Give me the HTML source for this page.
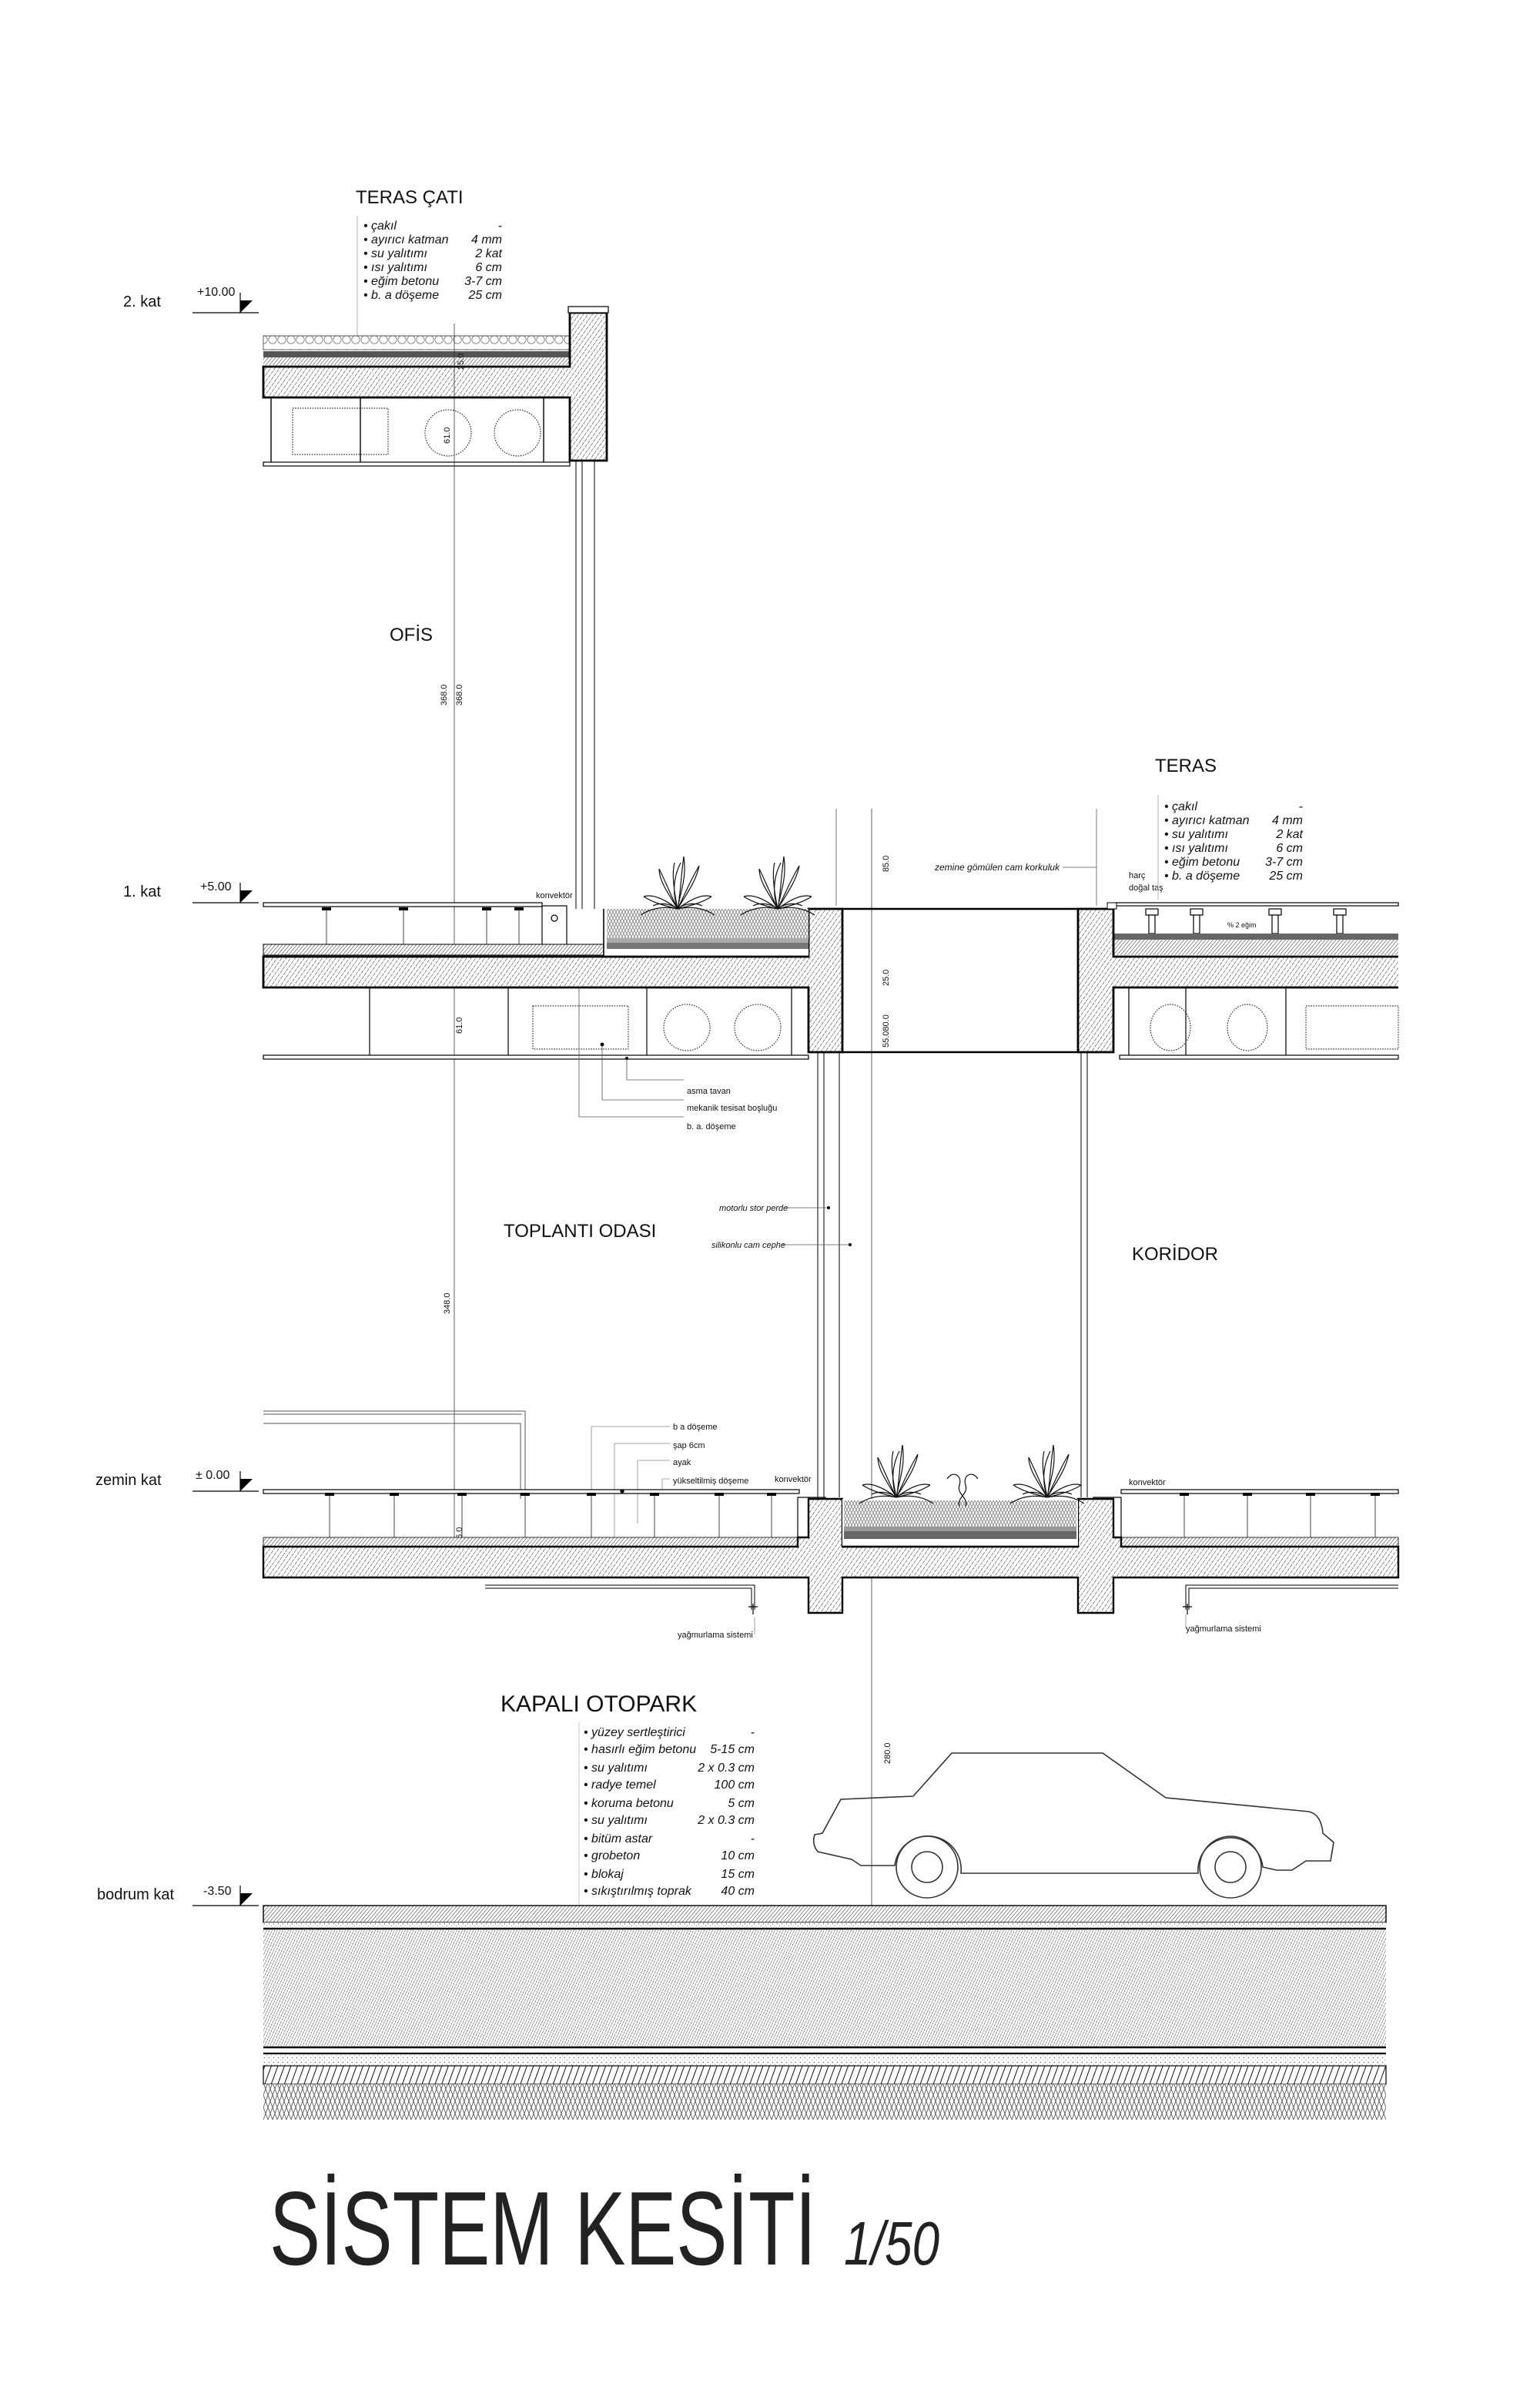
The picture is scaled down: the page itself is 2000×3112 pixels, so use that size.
<!DOCTYPE html>
<html><head><meta charset="utf-8"><style>
html,body{margin:0;padding:0;background:#fff}
svg{display:block}
text{font-family:"Liberation Sans Narrow","Liberation Sans",sans-serif;fill:#111}
.i{font-style:italic;font-size:8px}
.s{font-size:5.5px}
.r{font-size:12px}
.l{font-size:10px;font-family:"Liberation Sans",sans-serif}
.d{font-size:5.5px;font-family:"Liberation Sans",sans-serif}
</style></head><body>
<svg width="2000" height="3112" viewBox="0 0 1000 1556" xmlns="http://www.w3.org/2000/svg">
<defs>
<pattern id="hc" width="2.4" height="3" patternUnits="userSpaceOnUse" patternTransform="rotate(35)">
<rect width="2.4" height="3" fill="#fff"/><line x1="0" y1="0" x2="0" y2="3" stroke="#333" stroke-width="0.55" stroke-dasharray="2 0.6"/></pattern>
<pattern id="hd" width="1.6" height="2" patternUnits="userSpaceOnUse" patternTransform="rotate(25)">
<rect width="1.6" height="2" fill="#fff"/><line x1="0" y1="0" x2="0" y2="2" stroke="#222" stroke-width="0.5" stroke-dasharray="1.4 0.4"/></pattern>
<pattern id="hs" width="1.8" height="2" patternUnits="userSpaceOnUse" patternTransform="rotate(40)">
<rect width="1.8" height="2" fill="#fff"/><line x1="0" y1="0" x2="0" y2="2" stroke="#222" stroke-width="0.5"/></pattern>
<pattern id="hb" width="4" height="4" patternUnits="userSpaceOnUse" patternTransform="rotate(20)">
<rect width="4" height="4" fill="#fff"/><line x1="0" y1="0" x2="0" y2="4" stroke="#111" stroke-width="1"/></pattern>
<pattern id="hh" width="6" height="8" patternUnits="userSpaceOnUse">
<rect width="6" height="8" fill="#fff"/><path d="M0,0 L3,8 M3,0 L6,8 M6,0 L3,8 M3,0 L0,8" stroke="#555" stroke-width="0.45" fill="none"/></pattern>
<pattern id="hg" width="4" height="4" patternUnits="userSpaceOnUse">
<rect width="4" height="4" fill="#fff"/><path d="M0,0 L2,4 M2,0 L4,4 M4,0 L2,4 M2,0 L0,4" stroke="#777" stroke-width="0.4" fill="none"/></pattern>
<pattern id="pd" width="3" height="3" patternUnits="userSpaceOnUse">
<rect width="3" height="3" fill="#fff"/><circle cx="0.7" cy="0.8" r="0.3" fill="#444"/><circle cx="2.2" cy="2.1" r="0.25" fill="#777"/></pattern>
<pattern id="gv" width="6" height="9" patternUnits="userSpaceOnUse">
<rect width="6" height="9" fill="#fff"/><ellipse cx="3" cy="4.5" rx="2.6" ry="2.6" fill="none" stroke="#777" stroke-width="0.4"/></pattern>
<g id="plant" fill="none" stroke="#111" stroke-width="0.6">
<path d="M0,0 C-4,-12 -2,-22 2,-30 M0,0 C2,-12 6,-20 4,-34 M0,0 C-8,-6 -16,-10 -22,-8 M0,0 C-10,-2 -18,0 -24,4 M0,0 C8,-6 16,-10 22,-8 M0,0 C10,-2 18,0 24,4 M0,0 C-6,-10 -12,-18 -12,-26 M0,0 C6,-10 12,-18 14,-28 M-2,-30 C-4,-22 -2,-10 0,0 M4,-34 C2,-20 2,-10 0,0 M-22,-8 C-16,-4 -8,-2 0,0 M22,-8 C16,-4 8,-2 0,0 M-12,-26 C-8,-18 -4,-8 0,0 M14,-28 C8,-18 4,-8 0,0 M0,0 C-5,-4 -12,-4 -16,-2 M0,0 C5,-4 12,-4 16,-2"/>
</g>
</defs>

<!-- ROOF -->
<text class="r" x="231" y="132">TERAS ÇATI</text>
<line x1="232" y1="140" x2="232" y2="218" stroke="#999" stroke-width="0.4"/>
<g class="i">
<text class="i" x="236" y="149">• çakıl</text><text class="i" x="326" y="149" text-anchor="end">-</text>
<text class="i" x="236" y="158">• ayırıcı katman</text><text class="i" x="326" y="158" text-anchor="end">4 mm</text>
<text class="i" x="236" y="167">• su yalıtımı</text><text class="i" x="326" y="167" text-anchor="end">2 kat</text>
<text class="i" x="236" y="176">• ısı yalıtımı</text><text class="i" x="326" y="176" text-anchor="end">6 cm</text>
<text class="i" x="236" y="185">• eğim betonu</text><text class="i" x="326" y="185" text-anchor="end">3-7 cm</text>
<text class="i" x="236" y="194">• b. a döşeme</text><text class="i" x="326" y="194" text-anchor="end">25 cm</text>
</g>
<rect x="171" y="218" width="199" height="9" fill="url(#gv)" stroke="#333" stroke-width="0.4"/>
<rect x="171" y="228" width="199" height="4" fill="#555"/>
<rect x="171" y="232" width="199" height="5" fill="url(#hs)"/>
<path d="M171,238 L370,238 L370,203 L394,203 L394,299 L370,299 L370,258 L171,258 Z" fill="url(#hc)" stroke="#000" stroke-width="1.4"/>
<rect x="369" y="199" width="26" height="4" fill="#fff" stroke="#000" stroke-width="0.6"/>
<g stroke="#000" stroke-width="0.7"><line x1="176" y1="258" x2="176" y2="300"/><line x1="234" y1="258" x2="234" y2="300"/><line x1="353" y1="258" x2="353" y2="300"/></g>
<rect x="171" y="300" width="199" height="2.5" fill="#fff" stroke="#000" stroke-width="0.6"/>
<rect x="190" y="265" width="62" height="30" fill="none" stroke="#333" stroke-width="0.6" stroke-dasharray="0.8 0.8"/>
<circle cx="291" cy="281" r="15" fill="none" stroke="#333" stroke-width="0.6" stroke-dasharray="0.8 0.8"/>
<circle cx="336" cy="281" r="15" fill="none" stroke="#333" stroke-width="0.6" stroke-dasharray="0.8 0.8"/>
<g stroke="#000" stroke-width="0.5"><line x1="374" y1="299" x2="374" y2="590"/><line x1="378" y1="299" x2="378" y2="590"/><line x1="386" y1="299" x2="386" y2="590"/></g>

<!-- elevation markers -->
<g stroke="#000" stroke-width="0.6">
<line x1="125" y1="203" x2="168" y2="203"/><line x1="156" y1="190" x2="156" y2="203"/>
<line x1="125" y1="586" x2="168" y2="586"/><line x1="156" y1="573" x2="156" y2="586"/>
<line x1="125" y1="968" x2="168" y2="968"/><line x1="156" y1="955" x2="156" y2="968"/>
<line x1="125" y1="1237" x2="168" y2="1237"/><line x1="156" y1="1224" x2="156" y2="1237"/>
</g>
<g fill="#000">
<polygon points="156,195 164,195 156,203"/><polygon points="156,578 164,578 156,586"/>
<polygon points="156,960 164,960 156,968"/><polygon points="156,1229 164,1229 156,1237"/>
</g>
<text class="l" x="80" y="199">2. kat</text><text class="l" x="128" y="192" style="font-size:8px">+10.00</text>
<text class="l" x="80" y="582">1. kat</text><text class="l" x="130" y="578" style="font-size:8px">+5.00</text>
<text class="l" x="62" y="964">zemin kat</text><text class="l" x="127" y="960" style="font-size:8px">± 0.00</text>
<text class="l" x="63" y="1233">bodrum kat</text><text class="l" x="132" y="1230" style="font-size:8px">-3.50</text>

<!-- dimension lines -->
<line x1="295" y1="210" x2="295" y2="1024" stroke="#333" stroke-width="0.4"/>
<line x1="566" y1="525" x2="566" y2="1240" stroke="#333" stroke-width="0.4"/>
<g class="d">
<text class="d" transform="translate(301,240) rotate(-90)">25.0</text>
<text class="d" transform="translate(292,288) rotate(-90)">61.0</text>
<text class="d" transform="translate(290,458) rotate(-90)">368.0</text>
<text class="d" transform="translate(300,458) rotate(-90)">368.0</text>
<text class="d" transform="translate(300,641) rotate(-90)">25.0</text>
<text class="d" transform="translate(300,671) rotate(-90)">61.0</text>
<text class="d" transform="translate(292,853) rotate(-90)">348.0</text>
<text class="d" transform="translate(300,1002) rotate(-90)">46.0</text>
<text class="d" transform="translate(577,566) rotate(-90)">85.0</text>
<text class="d" transform="translate(577,640) rotate(-90)">25.0</text>
<text class="d" transform="translate(577,680) rotate(-90)">55.080.0</text>
<text class="d" transform="translate(577,998) rotate(-90)">80.0</text>
<text class="d" transform="translate(577,1025) rotate(-90)">25.0</text>
<text class="d" transform="translate(578,1145) rotate(-90)">280.0</text>
</g>

<text class="r" x="253" y="416">OFİS</text>

<!-- 1ST FLOOR LEFT -->
<rect x="171" y="586" width="181" height="2.5" fill="#fff" stroke="#000" stroke-width="0.6"/>
<g stroke="#444" stroke-width="0.5">
<line x1="212" y1="589" x2="212" y2="613"/><line x1="262" y1="589" x2="262" y2="613"/><line x1="316" y1="589" x2="316" y2="613"/><line x1="337" y1="589" x2="337" y2="613"/>
</g>
<g fill="#000"><rect x="209" y="589" width="6" height="2"/><rect x="259" y="589" width="6" height="2"/><rect x="313" y="589" width="6" height="2"/><rect x="334" y="589" width="6" height="2"/></g>
<rect x="352" y="588" width="16" height="27" fill="#fff" stroke="#000" stroke-width="0.6"/><circle cx="360" cy="596" r="2" fill="none" stroke="#000" stroke-width="0.6"/>
<text class="s" x="348" y="583">konvektör</text>
<rect x="171" y="613" width="221" height="7" fill="url(#hs)" stroke="#000" stroke-width="0.5"/>
<path d="M171,621 L525,621 L525,590 L547,590 L547,683 L525,683 L525,641 L171,641 Z" fill="url(#hc)" stroke="#000" stroke-width="1.4"/>
<rect x="392" y="590" width="133" height="31" fill="#fff"/>
<rect x="394" y="590" width="131" height="19" fill="url(#hg)"/>
<rect x="394" y="609" width="131" height="3" fill="#aaa"/><rect x="394" y="612" width="131" height="4" fill="#777"/>
<line x1="392" y1="621" x2="525" y2="621" stroke="#000" stroke-width="1.4"/>
<line x1="392" y1="590" x2="392" y2="621" stroke="#000" stroke-width="0.8"/>
<use href="#plant" x="440" y="590"/><use href="#plant" x="505" y="590"/>
<g stroke="#000" stroke-width="0.6"><line x1="240" y1="641" x2="240" y2="685"/><line x1="330" y1="641" x2="330" y2="685"/><line x1="420" y1="641" x2="420" y2="685"/><line x1="514" y1="641" x2="514" y2="685"/></g>
<rect x="171" y="685" width="354" height="2.5" fill="#fff" stroke="#000" stroke-width="0.6"/>
<rect x="346" y="653" width="62" height="28" fill="none" stroke="#333" stroke-width="0.6" stroke-dasharray="0.8 0.8"/>
<ellipse cx="446" cy="667" rx="15" ry="15" fill="none" stroke="#333" stroke-width="0.6" stroke-dasharray="0.8 0.8"/>
<ellipse cx="492" cy="667" rx="15" ry="15" fill="none" stroke="#333" stroke-width="0.6" stroke-dasharray="0.8 0.8"/>
<g stroke="#555" stroke-width="0.4" fill="none">
<path d="M407,687 L407,701 L444,701"/><path d="M391,678 L391,714 L444,714"/><path d="M376,641 L376,725 L444,725"/>
</g>
<circle cx="391" cy="678" r="1.2" fill="#000"/><circle cx="407" cy="687" r="1" fill="#000"/>
<text class="s" x="446" y="710">asma tavan</text>
<text class="s" x="446" y="721">mekanik tesisat boşluğu</text>
<text class="s" x="446" y="733">b. a. döşeme</text>

<!-- void between -->
<g stroke="#000" stroke-width="1.2"><line x1="547" y1="590" x2="700" y2="590"/><line x1="547" y1="683" x2="700" y2="683"/></g>
<line x1="712" y1="525" x2="712" y2="588" stroke="#555" stroke-width="0.4"/>
<line x1="543" y1="525" x2="543" y2="588" stroke="#555" stroke-width="0.4"/>
<text class="i" style="font-size:6px" x="607" y="565">zemine gömülen cam korkuluk</text>
<line x1="690" y1="563" x2="712" y2="563" stroke="#555" stroke-width="0.4"/>
<text class="s" x="733" y="570">harç</text><text class="s" x="733" y="578">doğal taş</text>

<!-- 1ST FLOOR RIGHT -->
<text class="r" x="750" y="501">TERAS</text>
<line x1="752" y1="516" x2="752" y2="584" stroke="#999" stroke-width="0.4"/>
<text class="i" x="756" y="526">• çakıl</text><text class="i" x="846" y="526" text-anchor="end">-</text>
<text class="i" x="756" y="535">• ayırıcı katman</text><text class="i" x="846" y="535" text-anchor="end">4 mm</text>
<text class="i" x="756" y="544">• su yalıtımı</text><text class="i" x="846" y="544" text-anchor="end">2 kat</text>
<text class="i" x="756" y="553">• ısı yalıtımı</text><text class="i" x="846" y="553" text-anchor="end">6 cm</text>
<text class="i" x="756" y="562">• eğim betonu</text><text class="i" x="846" y="562" text-anchor="end">3-7 cm</text>
<text class="i" x="756" y="571">• b. a döşeme</text><text class="i" x="846" y="571" text-anchor="end">25 cm</text>
<rect x="723" y="586" width="185" height="2" fill="#fff" stroke="#000" stroke-width="0.6"/>
<g fill="#fff" stroke="#000" stroke-width="0.6">
<rect x="744" y="590" width="8" height="4"/><rect x="746" y="594" width="4" height="12"/>
<rect x="773" y="590" width="8" height="4"/><rect x="775" y="594" width="4" height="12"/>
<rect x="824" y="590" width="8" height="4"/><rect x="826" y="594" width="4" height="12"/>
<rect x="866" y="590" width="8" height="4"/><rect x="868" y="594" width="4" height="12"/>
</g>
<text class="s" x="797" y="602" style="font-size:4.5px">% 2 eğim</text>
<rect x="723" y="606" width="185" height="4" fill="#666"/>
<rect x="723" y="610" width="185" height="10" fill="url(#hs)"/>
<path d="M908,621 L723,621 L723,590 L700,590 L700,683 L723,683 L723,641 L908,641" fill="url(#hc)" stroke="#000" stroke-width="1.4"/>
<rect x="719" y="586" width="6" height="4" fill="#fff" stroke="#000" stroke-width="0.5"/>
<g stroke="#000" stroke-width="0.6"><line x1="733" y1="641" x2="733" y2="685"/><line x1="770" y1="641" x2="770" y2="685"/><line x1="835" y1="641" x2="835" y2="685"/></g>
<rect x="727" y="685" width="181" height="2.5" fill="#fff" stroke="#000" stroke-width="0.6"/>
<ellipse cx="760" cy="667" rx="13" ry="15" fill="none" stroke="#333" stroke-width="0.6" stroke-dasharray="0.8 0.8"/>
<ellipse cx="810" cy="667" rx="13" ry="15" fill="none" stroke="#333" stroke-width="0.6" stroke-dasharray="0.8 0.8"/>
<rect x="848" y="653" width="60" height="28" fill="none" stroke="#333" stroke-width="0.6" stroke-dasharray="0.8 0.8"/>

<!-- facade glass -->
<g stroke="#000" stroke-width="0.5">
<line x1="531" y1="683" x2="531" y2="972"/><line x1="535" y1="683" x2="535" y2="972"/><line x1="545" y1="683" x2="545" y2="972"/>
<line x1="702" y1="683" x2="702" y2="972"/><line x1="706" y1="683" x2="706" y2="972"/>
</g>
<text class="r" x="327" y="803">TOPLANTI ODASI</text>
<text class="r" x="735" y="818">KORİDOR</text>
<text class="i" style="font-size:5.5px" x="467" y="786">motorlu stor perde</text>
<text class="i" style="font-size:5.5px" x="462" y="810">silikonlu cam cephe</text>
<g stroke="#555" stroke-width="0.4"><line x1="510" y1="784" x2="538" y2="784"/><line x1="508" y1="808" x2="552" y2="808"/></g>
<circle cx="538" cy="784" r="1" fill="#000"/><circle cx="552" cy="808" r="1" fill="#000"/>

<!-- GROUND FLOOR -->
<g fill="none" stroke="#555" stroke-width="0.5">
<path d="M171,916 L341,916 L341,973"/><path d="M171,918 L339,918"/><path d="M171,924 L338,924 L338,973"/>
</g>
<text class="s" x="437" y="928">b a döşeme</text>
<text class="s" x="437" y="940">şap 6cm</text>
<text class="s" x="437" y="951">ayak</text>
<text class="s" x="437" y="963">yükseltilmiş döşeme</text>
<g stroke="#888" stroke-width="0.4" fill="none">
<path d="M384,1012 L384,926 L435,926"/><path d="M399,1000 L399,937 L435,937"/><path d="M414,989 L414,948 L435,948"/><path d="M430,968 L430,960 L435,960"/>
</g>
<rect x="171" y="967" width="348" height="2.5" fill="#fff" stroke="#000" stroke-width="0.6"/>
<g stroke="#444" stroke-width="0.5">
<line x1="214" y1="969" x2="214" y2="998"/><line x1="256" y1="969" x2="256" y2="998"/><line x1="300" y1="969" x2="300" y2="998"/><line x1="341" y1="969" x2="341" y2="998"/><line x1="384" y1="969" x2="384" y2="998"/><line x1="425" y1="969" x2="425" y2="998"/><line x1="467" y1="969" x2="467" y2="998"/><line x1="501" y1="969" x2="501" y2="998"/>
<line x1="769" y1="969" x2="769" y2="998"/><line x1="810" y1="969" x2="810" y2="998"/><line x1="851" y1="969" x2="851" y2="998"/><line x1="893" y1="969" x2="893" y2="998"/>
</g>
<rect x="728" y="967" width="180" height="2.5" fill="#fff" stroke="#000" stroke-width="0.6"/>
<g fill="#000">
<rect x="211" y="969" width="6" height="2"/><rect x="253" y="969" width="6" height="2"/><rect x="297" y="969" width="6" height="2"/><rect x="338" y="969" width="6" height="2"/><rect x="381" y="969" width="6" height="2"/><rect x="422" y="969" width="6" height="2"/><rect x="464" y="969" width="6" height="2"/><rect x="498" y="969" width="6" height="2"/>
<rect x="766" y="969" width="6" height="2"/><rect x="807" y="969" width="6" height="2"/><rect x="848" y="969" width="6" height="2"/><rect x="890" y="969" width="6" height="2"/>
</g>
<circle cx="404" cy="968" r="1.3" fill="#000"/><circle cx="399" cy="1000" r="1.3" fill="#000"/>
<text class="s" x="503" y="962">konvektör</text><text class="s" x="733" y="964">konvektör</text>
<rect x="518" y="972" width="18" height="27" fill="#fff" stroke="#000" stroke-width="0.6"/><circle cx="527" cy="980" r="2" fill="none" stroke="#000" stroke-width="0.6"/>
<rect x="710" y="972" width="18" height="27" fill="#fff" stroke="#000" stroke-width="0.6"/><circle cx="719" cy="980" r="2" fill="none" stroke="#000" stroke-width="0.6"/>
<rect x="171" y="998" width="347" height="6" fill="url(#hs)" stroke="#000" stroke-width="0.4"/>
<rect x="728" y="998" width="180" height="6" fill="url(#hs)" stroke="#000" stroke-width="0.4"/>
<path d="M171,1004 L518,1004 L518,998 L525,998 L525,973 L547,973 L547,1004 L700,1004 L700,973 L723,973 L723,998 L728,998 L728,1004 L908,1004 L908,1024 L723,1024 L723,1047 L700,1047 L700,1024 L547,1024 L547,1047 L525,1047 L525,1024 L171,1024 Z" fill="url(#hc)" stroke="#000" stroke-width="1.2"/>
<rect x="547" y="973" width="153" height="31" fill="#fff"/>
<rect x="548" y="974" width="151" height="17" fill="url(#hg)"/>
<rect x="548" y="991" width="151" height="3" fill="#999"/><rect x="548" y="994" width="151" height="5" fill="#666"/>
<line x1="547" y1="1004" x2="700" y2="1004" stroke="#000" stroke-width="1.2"/>
<use href="#plant" x="582" y="972"/><use href="#plant" x="680" y="972"/>
<path d="M615,960 c4,-6 10,-2 8,4 c-2,6 6,8 4,14 M635,960 c-4,-6 -10,-2 -8,4 c2,6 -6,8 -4,14" fill="none" stroke="#111" stroke-width="0.6"/>
<g fill="none" stroke="#000" stroke-width="0.5">
<path d="M315,1029 L490,1029 L490,1045 M315,1031 L488,1031 L488,1045"/>
<path d="M908,1029 L770,1029 L770,1045 M908,1031 L772,1031 L772,1045"/>
</g>
<path d="M486,1043 L492,1043 M489,1041 L489,1048 M768,1043 L774,1043 M771,1041 L771,1048" stroke="#000" stroke-width="0.6"/>
<text class="s" x="440" y="1063">yağmurlama sistemi</text>
<text class="s" x="770" y="1059">yağmurlama sistemi</text>
<g stroke="#888" stroke-width="0.4"><line x1="490" y1="1050" x2="490" y2="1061"/><line x1="770" y1="1048" x2="770" y2="1057"/></g>

<!-- BASEMENT -->
<text class="r" x="325" y="1111" style="font-size:15px">KAPALI OTOPARK</text>
<line x1="376" y1="1118" x2="376" y2="1237" stroke="#bbb" stroke-width="0.4"/>
<g>
<text class="i" x="379" y="1127">• yüzey sertleştirici</text><text class="i" x="490" y="1127" text-anchor="end">-</text>
<text class="i" x="379" y="1138">• hasırlı eğim betonu</text><text class="i" x="490" y="1138" text-anchor="end">5-15 cm</text>
<text class="i" x="379" y="1150">• su yalıtımı</text><text class="i" x="490" y="1150" text-anchor="end">2 x 0.3 cm</text>
<text class="i" x="379" y="1161">• radye temel</text><text class="i" x="490" y="1161" text-anchor="end">100 cm</text>
<text class="i" x="379" y="1173">• koruma betonu</text><text class="i" x="490" y="1173" text-anchor="end">5 cm</text>
<text class="i" x="379" y="1184">• su yalıtımı</text><text class="i" x="490" y="1184" text-anchor="end">2 x 0.3 cm</text>
<text class="i" x="379" y="1196">• bitüm astar</text><text class="i" x="490" y="1196" text-anchor="end">-</text>
<text class="i" x="379" y="1207">• grobeton</text><text class="i" x="490" y="1207" text-anchor="end">10 cm</text>
<text class="i" x="379" y="1219">• blokaj</text><text class="i" x="490" y="1219" text-anchor="end">15 cm</text>
<text class="i" x="379" y="1230">• sıkıştırılmış toprak</text><text class="i" x="490" y="1230" text-anchor="end">40 cm</text>
</g>
<path d="M618,1138 L716,1138 L757,1167 L850,1176 Q858,1178 859,1190 L866,1196 L864,1208 L848,1208 L839,1214 L829,1214 L820,1212 A21,21 0 0 0 778,1216 L624,1216 A21,21 0 0 0 581,1211 L559,1211 L553,1207 L531,1202 Q527,1197 529,1191 L534,1190 L546,1168 L593,1166 Z" fill="none" stroke="#333" stroke-width="0.8"/>
<circle cx="602" cy="1212" r="20" fill="none" stroke="#333" stroke-width="0.8"/><circle cx="602" cy="1212" r="10" fill="none" stroke="#333" stroke-width="0.8"/>
<circle cx="799" cy="1212" r="20" fill="none" stroke="#333" stroke-width="0.8"/><circle cx="799" cy="1212" r="10" fill="none" stroke="#333" stroke-width="0.8"/>
<rect x="171" y="1237" width="729" height="11" fill="url(#hs)" stroke="#000" stroke-width="0.7"/>
<rect x="171" y="1248" width="729" height="4" fill="url(#pd)"/>
<line x1="171" y1="1252" x2="900" y2="1252" stroke="#000" stroke-width="1.3"/>
<rect x="171" y="1253" width="729" height="75" fill="url(#hd)"/>
<line x1="171" y1="1329" x2="900" y2="1329" stroke="#000" stroke-width="1.3"/>
<line x1="171" y1="1333" x2="900" y2="1333" stroke="#000" stroke-width="1.1"/>
<rect x="171" y="1334" width="729" height="7" fill="url(#pd)"/>
<rect x="171" y="1341" width="729" height="12" fill="url(#hb)" stroke="#000" stroke-width="0.6"/>
<rect x="171" y="1353" width="729" height="23" fill="url(#hh)"/>

<!-- TITLE -->
<text x="175" y="1470" style="font-size:68px;fill:#222" textLength="355" lengthAdjust="spacingAndGlyphs">SİSTEM KESİTİ</text>
<text x="548" y="1470" style="font-size:40px;font-style:italic;fill:#222" textLength="62" lengthAdjust="spacingAndGlyphs">1/50</text>
</svg>
</body></html>
